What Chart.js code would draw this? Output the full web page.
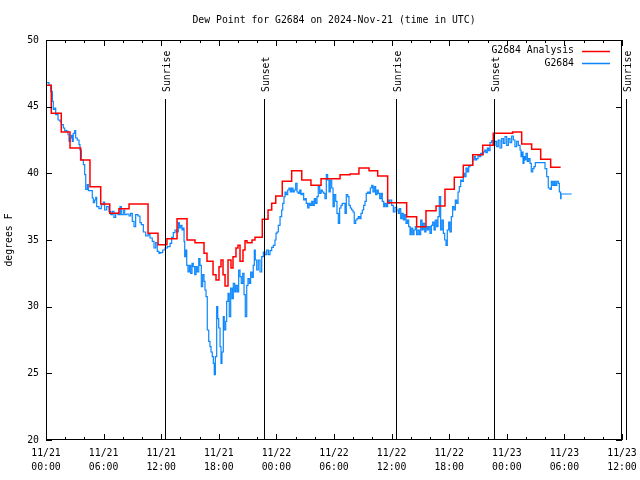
<!DOCTYPE html>
<html>
<head>
<meta charset="utf-8">
<title>Dew Point G2684</title>
<script src="https://cdn.jsdelivr.net/npm/chart.js@4.4.1/dist/chart.umd.min.js"></script>
<style>
  html, body { margin: 0; padding: 0; background: #fff; }
  #box { width: 640px; height: 480px; }
</style>
</head>
<body>
<div id="box"><canvas id="dew" width="640" height="480"></canvas></div>
<script>
var titleText = "Dew Point for G2684 on 2024-Nov-21 (time in UTC)"
var yLabel = "degrees F"
var seriesNames = ["G2684 Analysis", "G2684"]
var seriesColors = ["#ff0000", "#0a86ff"]

// hours since 11/21 00:00 UTC
var xTickHours = [0, 6, 12, 18, 24, 30, 36, 42, 48, 54, 60]
var yTicks = [20, 25, 30, 35, 40, 45, 50]

var sunHours = [12.40, 22.74, 36.43, 46.67, 60.42]
var sunLabels = ["Sunrise", "Sunset", "Sunrise", "Sunset", "Sunrise"]

// analysis (step starts)
var anaHours = [0.07, 0.55, 1.59, 2.50, 3.61, 4.58, 5.70, 6.64, 7.60, 8.65,
  10.63, 11.67, 12.60, 13.65, 14.69, 15.52, 16.46, 16.77, 17.40, 17.71,
  18.02, 18.23, 18.44, 18.65, 18.96, 19.27, 19.48, 19.79, 20.00, 20.21,
  20.52, 20.73, 20.94, 21.46, 21.77, 22.53, 23.13, 23.51, 23.93, 24.61,
  25.59, 26.64, 27.60, 28.65, 30.63, 31.67, 32.60, 33.65, 34.55, 35.59,
  37.57, 38.61, 39.58, 40.63, 41.56, 42.53, 43.47, 44.45, 45.49, 46.59,
  48.61, 49.55, 50.59, 51.53, 52.57, 53.61]
var anaDewF = [46.6, 44.5, 43.1, 41.9, 41.0, 39.0, 37.7, 37.0, 37.35, 37.7,
  35.5, 34.65, 35.1, 36.6, 35.0, 34.8, 34.0, 33.4, 32.4, 32.0,
  33.0, 33.5, 32.4, 31.55, 33.5, 32.9, 33.75, 34.4, 34.6, 33.4,
  34.25, 34.95, 34.8, 35.0, 35.2, 36.55, 37.25, 37.75, 38.3, 39.4,
  40.2, 39.5, 39.1, 39.6, 39.9, 39.95, 40.4, 40.2, 39.8, 37.8,
  36.75, 36.0, 37.2, 37.55, 38.8, 39.7, 40.6, 41.4, 42.1, 43.0,
  43.1, 42.2, 41.8, 41.05, 40.45, 40.45]

// station observations
var obsHours = [0.07, 0.31, 0.49, 0.66, 0.76, 0.91, 1.01, 1.18, 1.25, 1.46,
  1.59, 1.80, 1.95, 2.16, 2.29, 2.40, 2.50, 2.64, 2.74, 2.84,
  2.99, 3.09, 3.26, 3.44, 3.54, 3.68, 3.89, 4.03, 4.14, 4.30,
  4.41, 4.82, 4.93, 5.07, 5.18, 5.28, 5.52, 5.76, 5.97, 6.11,
  6.32, 6.56, 6.74, 6.91, 7.08, 7.26, 7.50, 7.71, 7.84, 8.05,
  8.20, 8.41, 8.65, 8.82, 8.99, 9.17, 9.34, 9.58, 9.79, 9.93,
  10.14, 10.39, 10.63, 10.83, 11.07, 11.25, 11.43, 11.59, 11.77, 11.88,
  12.16, 12.40, 12.64, 12.92, 13.09, 13.26, 13.44, 13.61, 13.78, 13.89,
  14.03, 14.17, 14.30, 14.38, 14.45, 14.58, 14.66, 14.79, 14.93, 15.07,
  15.21, 15.34, 15.49, 15.63, 15.76, 15.91, 16.04, 16.18, 16.32, 16.46,
  16.56, 16.67, 16.80, 16.95, 17.08, 17.19, 17.32, 17.43, 17.53, 17.64,
  17.78, 17.89, 17.99, 18.13, 18.23, 18.33, 18.47, 18.57, 18.72, 18.82,
  18.96, 19.09, 19.24, 19.38, 19.51, 19.66, 19.79, 19.93, 20.07, 20.21,
  20.34, 20.49, 20.63, 20.76, 20.91, 21.04, 21.18, 21.32, 21.46, 21.59,
  21.70, 21.80, 21.95, 22.11, 22.29, 22.47, 22.64, 22.81, 22.99, 23.16,
  23.33, 23.51, 23.68, 23.85, 23.96, 24.06, 24.20, 24.38, 24.55, 24.66,
  24.79, 24.90, 25.03, 25.18, 25.31, 25.45, 25.59, 25.73, 25.86, 26.01,
  26.15, 26.28, 26.43, 26.56, 26.70, 26.84, 26.98, 27.11, 27.26, 27.40,
  27.53, 27.68, 27.81, 27.95, 28.09, 28.23, 28.36, 28.51, 28.65, 28.78,
  28.93, 29.06, 29.20, 29.34, 29.48, 29.61, 29.76, 29.90, 30.03, 30.18,
  30.31, 30.45, 30.59, 30.73, 30.86, 31.15, 31.28, 31.43, 31.56, 31.70,
  31.84, 31.98, 32.11, 32.26, 32.40, 32.53, 32.68, 32.81, 32.95, 33.09,
  33.23, 33.36, 33.51, 33.65, 33.78, 33.93, 34.06, 34.20, 34.34, 34.48,
  34.61, 34.76, 34.90, 35.03, 35.18, 35.31, 35.45, 35.59, 35.73, 35.83,
  36.01, 36.18, 36.35, 36.53, 36.70, 36.80, 36.95, 37.08, 37.22, 37.36,
  37.50, 37.64, 37.78, 37.92, 38.05, 38.20, 38.33, 38.47, 38.61, 38.75,
  38.89, 39.03, 39.17, 39.30, 39.45, 39.58, 39.72, 39.86, 40.00, 40.14,
  40.28, 40.42, 40.55, 40.70, 40.83, 40.97, 41.11, 41.25, 41.39, 41.53,
  41.67, 41.80, 41.95, 42.08, 42.22, 42.36, 42.50, 42.64, 42.78, 42.92,
  43.05, 43.20, 43.33, 43.47, 43.61, 43.75, 43.89, 44.03, 44.17, 44.45,
  44.58, 44.72, 44.86, 45.00, 45.14, 45.28, 45.42, 45.55, 45.70, 45.83,
  45.97, 46.11, 46.25, 46.43, 46.59, 46.77, 46.95, 47.11, 47.29, 47.47,
  47.64, 47.81, 47.99, 48.16, 48.33, 48.51, 48.68, 48.85, 49.03, 49.20,
  49.38, 49.48, 49.58, 49.69, 49.79, 49.90, 50.00, 50.14, 50.28, 50.42,
  50.55, 50.70, 50.83, 50.97, 51.98, 52.16, 52.32, 52.50, 52.64, 52.78,
  52.92, 53.05, 53.20, 53.36, 53.47, 53.61, 53.65, 54.76]
var obsDewF = [46.8, 46.6, 46.15, 45.4, 44.8, 44.9, 44.4, 44.5, 44.0, 43.9,
  43.65, 43.4, 43.2, 43.15, 42.9, 42.4, 42.65, 42.85, 42.4, 43.0,
  43.2, 42.65, 42.5, 42.15, 41.75, 41.0, 40.65, 39.9, 38.8, 39.15,
  38.7, 38.15, 37.8, 38.0, 38.2, 37.5, 37.35, 37.65, 37.85, 37.25,
  37.5, 37.15, 36.9, 37.15, 36.7, 37.0, 36.9, 37.5, 36.9, 37.25,
  36.9, 36.95, 36.8, 37.0, 36.4, 36.0, 36.9, 36.8, 36.3, 36.15,
  35.6, 35.3, 35.4, 35.15, 34.9, 34.4, 34.8, 34.15, 34.0, 34.05,
  34.25, 34.4, 34.5, 34.75, 35.2, 35.55, 35.75, 35.6, 36.3, 35.9,
  36.1, 35.75, 35.9, 34.9, 33.75, 34.25, 33.1, 32.6, 33.1, 32.5,
  33.25, 33.0, 32.4, 33.0, 32.6, 33.6, 33.1, 31.5, 32.4, 31.9,
  31.25, 30.75, 28.25, 27.4, 27.0, 26.6, 26.25, 25.75, 24.9, 26.25,
  30.0, 29.1, 28.4, 27.0, 25.75, 26.6, 29.25, 28.25, 28.9, 30.4,
  31.0, 29.25, 31.4, 30.6, 31.75, 31.1, 31.6, 31.1, 32.75, 32.25,
  31.75, 32.5, 30.9, 29.25, 31.6, 32.1, 31.75, 32.6, 32.2, 33.1,
  34.25, 33.5, 32.75, 33.5, 32.6, 33.75, 34.1, 33.9, 34.25, 33.9,
  34.2, 34.45, 34.6, 35.0, 35.5, 35.6, 36.1, 36.75, 37.25, 37.75,
  38.25, 38.6, 38.4, 38.75, 38.9, 38.6, 38.9, 38.6, 38.75, 39.25,
  38.6, 38.5, 38.75, 38.4, 38.5, 38.0, 38.1, 37.75, 37.4, 37.75,
  37.6, 37.9, 37.6, 38.1, 37.75, 38.25, 39.0, 38.5, 38.75, 38.6,
  38.5, 38.1, 39.9, 39.5, 38.6, 39.5, 38.9, 37.5, 38.4, 37.9,
  37.0, 36.25, 37.4, 37.6, 37.75, 37.0, 38.4, 38.25, 37.6, 37.4,
  37.25, 37.1, 36.25, 36.5, 36.6, 36.75, 36.6, 37.0, 37.25, 37.6,
  37.9, 38.5, 38.6, 38.5, 38.9, 39.1, 38.6, 39.0, 38.4, 38.75,
  38.5, 38.1, 38.5, 37.9, 37.5, 37.75, 37.5, 38.0, 37.75, 38.0,
  37.6, 37.1, 37.45, 37.25, 37.0, 37.35, 36.6, 37.0, 36.5, 36.9,
  36.25, 36.5, 36.0, 35.4, 35.9, 35.4, 35.75, 36.0, 35.4, 35.75,
  35.4, 36.5, 35.75, 36.25, 35.6, 36.0, 35.75, 36.0, 35.5, 36.1,
  36.35, 35.75, 36.5, 36.0, 36.75, 38.25, 35.75, 36.5, 35.5, 35.0,
  34.6, 35.75, 36.35, 35.6, 36.75, 37.5, 37.25, 38.0, 37.75, 38.6,
  39.0, 39.5, 39.4, 40.0, 39.75, 40.4, 40.1, 40.5, 40.6, 41.0,
  41.25, 41.0, 41.1, 41.4, 41.25, 41.5, 41.4, 41.6, 41.75, 41.55,
  41.9, 41.7, 42.3, 42.45, 42.1, 42.4, 42.0, 42.5, 41.9, 42.6,
  42.25, 42.75, 42.1, 42.6, 42.3, 42.8, 42.5, 42.0, 42.4, 42.1,
  41.75, 41.25, 41.6, 40.75, 41.25, 41.0, 41.5, 40.9, 41.1, 40.75,
  40.1, 40.35, 40.5, 40.8, 40.35, 39.75, 38.9, 38.8, 39.4, 39.1,
  39.4, 39.1, 39.4, 39.25, 38.6, 38.1, 38.45, 38.45]

var fontFam = "'DejaVu Sans Mono', 'Liberation Mono', monospace"
var fontSize = 9.8

function pts(xs, ys) {
  var out = []
  for (var i = 0; i < xs.length; i++) out.push({ x: xs[i], y: ys[i] })
  return out
}

function hourLabel(h) {
  var day = 21 + Math.floor(h / 24)
  var hh = h % 24
  return ["11/" + day, (hh < 10 ? "0" : "") + hh + ":00"]
}

var gnuFrame = {
  id: "gnuFrame",
  afterDatasetsDraw: function (chart) {
    var ctx = chart.ctx
    var a = chart.chartArea
    var xs = chart.scales.x
    var ys = chart.scales.y
    ctx.save()
    ctx.strokeStyle = "#000"
    ctx.lineWidth = 1
    ctx.font = fontSize + "px " + fontFam
    ctx.fillStyle = "#000"

    // sunrise / sunset markers
    for (var i = 0; i < sunHours.length; i++) {
      var px = Math.round(xs.getPixelForValue(sunHours[i])) + 0.5
      ctx.beginPath()
      ctx.moveTo(px, 99)
      ctx.lineTo(px, a.bottom)
      ctx.stroke()
      ctx.save()
      ctx.translate(px + 1.5, 92)
      ctx.rotate(-Math.PI / 2)
      ctx.textAlign = "left"
      ctx.textBaseline = "middle"
      ctx.fillText(sunLabels[i], 0, 0)
      ctx.restore()
    }

    // border
    ctx.strokeRect(a.left + 0.5, a.top + 0.5, a.right - a.left - 1, a.bottom - a.top - 1)

    // inward tics
    ctx.beginPath()
    for (var h = 0; h <= 60; h += 2) {
      var x = Math.round(xs.getPixelForValue(h)) + 0.5
      var len = (h % 6 === 0) ? 6 : 3
      ctx.moveTo(x, a.bottom)
      ctx.lineTo(x, a.bottom - len)
      ctx.moveTo(x, a.top)
      ctx.lineTo(x, a.top + len)
    }
    for (var j = 0; j < yTicks.length; j++) {
      var y = Math.round(ys.getPixelForValue(yTicks[j])) + 0.5
      ctx.moveTo(a.left, y)
      ctx.lineTo(a.left + 6, y)
      ctx.moveTo(a.right, y)
      ctx.lineTo(a.right - 6, y)
    }
    ctx.stroke()

    // title
    ctx.textAlign = "center"
    ctx.textBaseline = "middle"
    ctx.fillText(titleText, (a.left + a.right) / 2, 20)

    // key
    ctx.textAlign = "right"
    for (var k = 0; k < seriesNames.length; k++) {
      var ly = 50.5 + k * 12.5
      ctx.fillStyle = "#000"
      ctx.fillText(seriesNames[k], 574, ly)
      ctx.strokeStyle = seriesColors[k]
      ctx.lineWidth = 1.5
      ctx.beginPath()
      ctx.moveTo(582, Math.round(ly) + 0.5)
      ctx.lineTo(610, Math.round(ly) + 0.5)
      ctx.stroke()
    }
    ctx.restore()
  }
}

Chart.defaults.color = "#000"
Chart.defaults.font.family = fontFam
Chart.defaults.font.size = fontSize

new Chart(document.getElementById("dew"), {
  type: "line",
  data: {
    datasets: [{
      label: seriesNames[0],
      data: pts(anaHours, anaDewF),
      borderColor: seriesColors[0],
      borderWidth: 1.5,
      pointRadius: 0,
      stepped: true,
      fill: false
    }, {
      label: seriesNames[1],
      data: pts(obsHours, obsDewF),
      borderColor: seriesColors[1],
      borderWidth: 1.2,
      pointRadius: 0,
      stepped: true,
      fill: false
    }]
  },
  options: {
    responsive: false,
    animation: false,
    devicePixelRatio: 1,
    layout: { padding: { top: 40, right: 18, left: 0, bottom: 0 } },
    plugins: { legend: { display: false }, tooltip: { enabled: false }, title: { display: false } },
    scales: {
      x: {
        type: "linear",
        min: 0, max: 60,
        grid: { display: false, drawTicks: false },
        border: { display: false },
        afterBuildTicks: function (s) { s.ticks = xTickHours.map(function (v) { return { value: v } }) },
        afterFit: function (s) { s.height = 40; s.paddingLeft = 0; s.paddingRight = 0 },
        ticks: {
          maxRotation: 0, autoSkip: false, padding: 6,
          font: { size: fontSize, lineHeight: 1.43 },
          callback: function (v) { return hourLabel(v) }
        }
      },
      y: {
        min: 20, max: 50,
        grid: { display: false, drawTicks: false },
        border: { display: false },
        afterBuildTicks: function (s) { s.ticks = yTicks.map(function (v) { return { value: v } }) },
        afterFit: function (s) { s.width = 46; s.paddingTop = 0; s.paddingBottom = 0 },
        ticks: { padding: 7 },
        title: { display: true, text: yLabel, padding: { top: 4, bottom: 0 }, font: { size: fontSize } }
      }
    }
  },
  plugins: [gnuFrame]
})
</script>
</body>
</html>
